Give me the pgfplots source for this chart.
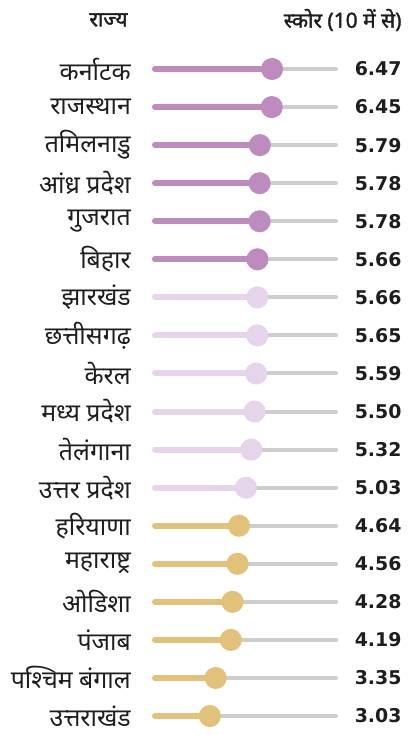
\documentclass[border=0pt]{standalone}
\usepackage{fontspec}
\usepackage{pgfplots}
\usepackage{pgfplotstable}
\pgfplotsset{compat=1.18}
\setmainfont{DejaVu Sans}
\newfontfamily\deva[Script=Devanagari]{Noto Sans}
\newfontfamily\devab[Script=Devanagari, FakeBold=1.6]{Noto Sans}
\definecolor{barA}{RGB}{190,139,191}
\definecolor{barB}{RGB}{229,212,234}
\definecolor{barC}{RGB}{226,194,122}
\definecolor{track}{RGB}{205,205,205}
\definecolor{ink}{RGB}{30,30,30}

% score out of 10, rows top to bottom
\pgfplotstableread[col sep=comma]{
idx,v
0,6.47
1,6.45
2,5.79
3,5.78
4,5.78
5,5.66
6,5.66
7,5.65
8,5.59
9,5.50
10,5.32
11,5.03
12,4.64
13,4.56
14,4.28
15,4.19
16,3.35
17,3.03
}\scores

\pgfplotsset{
  lolli/.style={xcomb, draw=#1, line width=6bp, line cap=round,
    mark=*, mark size=8bp, mark options={fill=#1, draw=none}}
}

\begin{document}
\begin{tikzpicture}[x=1bp,y=1bp]
\path[use as bounding box] (0,0) rectangle (407,-735);
\begin{axis}[
  at={(155bp,-69bp)}, anchor=north west,
  scale only axis, width=181bp, height=647bp,
  xmin=0, xmax=10, ymin=0, ymax=17, y dir=reverse,
  clip=false,
  axis line style={draw=none},
  major tick length=0pt,
  xtick=\empty,
  ytick={0,...,17},
  yticklabels={कर्नाटक, राजस्थान, तमिलनाडु, आंध्र प्रदेश, गुजरात, बिहार, झारखंड, छत्तीसगढ़, केरल, मध्य प्रदेश, तेलंगाना, उत्तर प्रदेश, हरियाणा, महाराष्ट्र, ओडिशा, पंजाब, पश्चिम बंगाल, उत्तराखंड},
  yticklabel style={font=\deva\fontsize{25}{26}\selectfont, text=ink, anchor=east, inner sep=0pt, xshift=-24bp},
  /pgf/number format/assume math mode=true,
]
\addplot[xcomb, draw=track, line width=4bp, line cap=round] table[x expr=10, y=idx]{\scores};
\addplot[lolli=barA, skip coords between index={6}{18}] table[x=v, y=idx]{\scores};
\addplot[lolli=barB, skip coords between index={0}{6}, skip coords between index={12}{18}] table[x=v, y=idx]{\scores};
\addplot[lolli=barC, skip coords between index={0}{12}] table[x=v, y=idx]{\scores};
\addplot[draw=none, mark=none, point meta=explicit,
  nodes near coords={\pgfmathprintnumber[fixed,fixed zerofill,precision=2]{\pgfplotspointmeta}},
  every node near coord/.append style={anchor=east, xshift=69bp, text=ink,
    font=\bfseries\fontsize{19}{21}\selectfont}]
  table[x expr=10, y=idx, meta=v]{\scores};
\end{axis}
\node[anchor=east, text=ink, font=\devab\fontsize{21}{23}\selectfont] at (131,-20) {राज्य};
\node[anchor=east, text=ink, font=\devab\fontsize{21}{23}\selectfont] at (405,-20) {स्कोर (10 में से)};
\end{tikzpicture}
\end{document}
